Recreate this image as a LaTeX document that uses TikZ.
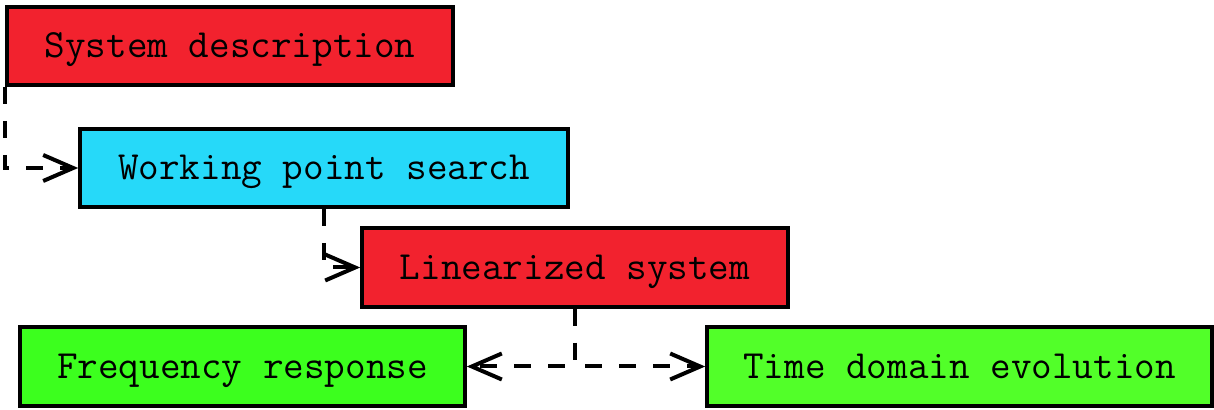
\documentclass[tikz,border=0pt]{standalone}
\usepackage{fontspec}
\usetikzlibrary{arrows.meta}
\definecolor{boxred}{RGB}{242,34,46}
\definecolor{boxcyan}{RGB}{38,217,249}
\definecolor{boxgreenA}{RGB}{60,255,30}
\definecolor{boxgreenB}{RGB}{82,255,41}
\tikzset{
  stage/.style={draw=black, line width=1.8pt, inner sep=0pt, anchor=center,
    font=\ttfamily\fontsize{20}{24}\selectfont,
    text height=16pt, text depth=4pt},
  flow/.style={line width=2pt, dash pattern=on 8.5pt off 8.5pt,
    -{Straight Barb[length=15pt,width=13pt,line width=2pt]}},
}
\begin{document}
\begin{tikzpicture}[x=0.5pt,y=-0.5pt]
  \useasboundingbox (0,0) rectangle (1214,410);
  \node[stage, fill=boxred, minimum width=223pt, minimum height=39pt] (sys) at (230,46) {System description};
  \node[stage, fill=boxcyan, minimum width=244pt, minimum height=39pt] (wps) at (324,168) {Working point search};
  \node[stage, fill=boxred, minimum width=213pt, minimum height=39.5pt] (lin) at (575,267.5) {Linearized system};
  \node[stage, fill=boxgreenA, minimum width=222.5pt, minimum height=39.5pt] (frq) at (242.5,366.5) {Frequency response};
  \node[stage, fill=boxgreenB, minimum width=252.5pt, minimum height=39.5pt] (tde) at (959.5,366.5) {Time domain evolution};
  \draw[flow] (sys.south west) |- (wps.west);
  \draw[flow] (wps.south) |- (lin.west);
  \draw[flow] (lin.south) |- (frq.east);
  \draw[flow] (lin.south) |- (tde.west);
\end{tikzpicture}
\end{document}
